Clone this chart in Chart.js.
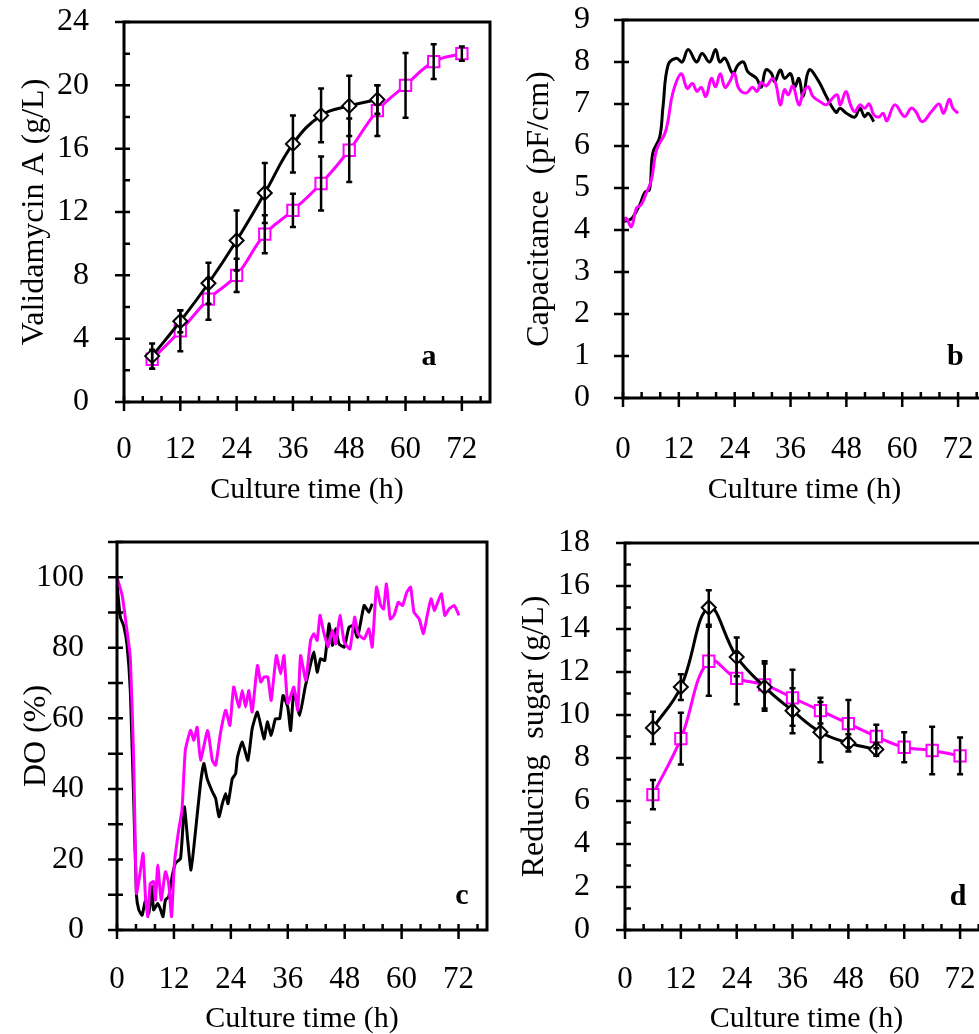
<!DOCTYPE html>
<html>
<head>
<meta charset="utf-8">
<script src="https://cdn.jsdelivr.net/npm/chart.js@4.4.1/dist/chart.umd.min.js"></script>
<style>
  body { margin: 0; background: #fff; overflow: hidden; width: 979px; height: 1034px; position: relative; }
  canvas { position: absolute; }
</style>
</head>
<body>
<canvas id="chartA" width="500" height="520" style="left:0;top:0"></canvas>
<canvas id="chartB" width="500" height="520" style="left:500px;top:0"></canvas>
<canvas id="chartC" width="500" height="514" style="left:0;top:520px"></canvas>
<canvas id="chartD" width="500" height="514" style="left:500px;top:520px"></canvas>
<script>
// sampling times (h)
const sampleTimes = [6, 12, 18, 24, 30, 36, 42, 48, 54, 60, 66, 72];

// a: validamycin A (g/L)
const valBlack = [2.9, 5.1, 7.5, 10.2, 13.2, 16.3, 18.1, 18.7, 19.1];
const valBlackErr = [0.8, 0.7, 1.3, 1.9, 1.9, 1.8, 1.7, 1.9, 0.9];
const valMagenta = [2.7, 4.5, 6.5, 8.0, 10.6, 12.1, 13.8, 15.9, 18.4, 20.0, 21.5, 22.0];
const valMagentaErr = [0.6, 1.3, 1.3, 1.05, 1.2, 1.05, 1.7, 2.0, 1.6, 2.05, 1.1, 0.45];

// b: capacitance (pF/cm), online
const capBlackT = [0, 1.4, 2.1, 3.6, 4.7, 5.7, 6.4, 7.9, 8.6, 9.7, 11.5, 12.7, 14, 15.8, 17, 18.6, 19.9, 20.8, 21.9, 23.6, 24.7, 25.9, 26.8, 28.7, 29.7, 30.7, 31.9, 32.6, 33.8, 34.7, 36, 36.9, 37.8, 38.7, 40, 41.9, 43.7, 45.8, 46.6, 48, 49.8, 50.9, 51.9, 52.7, 53.9];
const capBlack = [4.2, 4.24, 4.3, 4.6, 4.9, 4.96, 5.83, 6.22, 6.94, 7.93, 8.09, 8.0, 8.3, 8.0, 8.2, 8.0, 8.3, 8.0, 8.09, 7.73, 7.93, 8.0, 7.77, 7.61, 7.4, 7.81, 7.73, 7.53, 7.81, 7.61, 7.72, 7.41, 7.61, 7.18, 7.81, 7.57, 7.18, 6.8, 6.9, 6.78, 6.69, 6.9, 6.7, 6.78, 6.58];
const capMagentaT = [0.1, 0.7, 1.8, 2.9, 3.9, 5.0, 6.1, 7.2, 9.0, 9.7, 10.7, 12.5, 13.8, 14.9, 15.9, 16.8, 17.8, 19.0, 19.9, 20.9, 21.9, 22.9, 23.9, 24.9, 26.5, 27.8, 28.8, 29.7, 30.8, 32.1, 32.9, 33.8, 34.7, 35.5, 36.5, 37.8, 38.7, 39.8, 40.8, 42.3, 43.7, 44.8, 46.0, 46.7, 47.9, 48.9, 49.8, 50.9, 51.9, 52.9, 53.9, 55.0, 55.9, 56.7, 58.4, 60.5, 61.9, 62.9, 64.3, 66.3, 67.9, 68.9, 70.1, 70.9, 72.0];
const capMagenta = [4.2, 4.28, 4.08, 4.52, 4.6, 4.88, 5.19, 5.9, 6.3, 6.62, 7.26, 7.72, 7.37, 7.49, 7.3, 7.4, 7.18, 7.61, 7.41, 7.72, 7.4, 7.53, 7.73, 7.37, 7.26, 7.4, 7.3, 7.51, 7.43, 7.61, 7.45, 6.98, 7.34, 7.22, 7.43, 6.98, 7.26, 7.41, 7.18, 7.06, 6.98, 7.11, 7.22, 6.98, 7.3, 6.98, 6.82, 6.98, 6.9, 7.0, 6.74, 6.69, 6.78, 6.6, 6.98, 6.7, 6.9, 6.82, 6.58, 6.82, 7.0, 6.78, 7.11, 6.9, 6.78];

// c: dissolved oxygen (%), online
const doBlackT = [0, 0.7, 1.4, 2.1, 2.8, 3.5, 4.1, 4.6, 5.3, 6.0, 6.7, 7.4, 7.7, 8.6, 9.1, 9.7, 10.2, 10.9, 11.6, 12.3, 13.4, 14.2, 14.9, 15.6, 16.5, 17.6, 18.3, 19.0, 20.1, 20.8, 21.5, 22.2, 22.9, 23.4, 24.3, 25.0, 25.4, 26.4, 27.6, 28.5, 29.6, 31, 31.7, 32.5, 33.4, 34.3, 35.0, 36.0, 36.6, 37.3, 38.5, 39.6, 40.5, 41.5, 42.2, 42.9, 43.8, 44.7, 45.4, 46.1, 46.8, 47.9, 48.9, 49.8, 50.7, 52.1, 53.1, 53.8];
const doBlack = [98, 88.7, 86.3, 81, 68, 37.7, 9.9, 5.7, 4.2, 8.5, 4.7, 12.3, 5.7, 7.5, 6.1, 3.8, 8.5, 9.4, 15, 18.9, 20.3, 34.9, 25.5, 17, 27.4, 41.5, 47.2, 42.9, 39.2, 37.3, 32.1, 35.8, 38.7, 35.8, 42.9, 44.3, 49, 53.3, 48.1, 57.1, 61.8, 54.2, 59, 55.2, 59.9, 59.9, 66.5, 63.2, 56.6, 67.9, 60.8, 68.4, 73.6, 78.8, 73.1, 76.9, 76.4, 86.8, 80.7, 85.4, 81.1, 80.2, 85.8, 86.3, 83, 92, 90.1, 92.5];
const doMagentaT = [0, 1.1, 2.1, 2.8, 3.5, 4.1, 4.8, 5.5, 6.0, 6.5, 7.0, 7.7, 8.1, 8.6, 9.3, 10.2, 10.9, 11.5, 12.1, 13.0, 13.7, 14.4, 15.5, 16.2, 16.9, 17.6, 19.1, 20.1, 20.8, 21.8, 22.9, 23.8, 24.6, 25.7, 26.4, 27.1, 27.8, 28.5, 29.6, 30.3, 31, 31.8, 32.5, 33.6, 34.5, 35.2, 36.0, 37.3, 38.1, 38.7, 39.8, 40.8, 41.5, 42.2, 42.8, 43.5, 44.5, 45.4, 46.1, 47.0, 47.9, 49.1, 50.1, 50.8, 52.1, 53.1, 53.8, 54.7, 55.6, 56.2, 56.8, 57.6, 58.4, 59.3, 60.2, 61.1, 61.9, 62.6, 63.7, 64.6, 65.4, 66.2, 66.9, 67.6, 68.4, 69.1, 70.0, 71.1, 72.1];
const doMagenta = [100, 94.8, 84.9, 77.4, 49, 10.4, 15.6, 21.7, 9.4, 3.8, 13.2, 13.7, 8.5, 18.4, 8.5, 16.5, 13.2, 3.8, 18.9, 28.3, 34, 50.9, 56.6, 53.8, 57.5, 48.1, 56.6, 48.1, 46.7, 55.7, 62.3, 58, 68.9, 63.2, 67.9, 63.2, 67.9, 61.8, 75, 70.3, 71.7, 71.7, 65.1, 77.8, 72.6, 77.8, 64.2, 68.9, 62.3, 77.8, 70.8, 82.1, 84, 82.1, 89.2, 84.9, 80.2, 84.9, 81.1, 89.2, 81.6, 79.7, 88.7, 84, 82.5, 85.4, 80.2, 97.2, 92, 91, 98.1, 88.2, 89.2, 92.9, 92, 95.8, 97.2, 90.1, 88.2, 84, 89.2, 93.9, 90.6, 92.9, 95.3, 89.2, 91, 92, 89.2];

// d: reducing sugar (g/L)
const sugarBlack = [9.4, 11.3, 15.0, 12.7, 11.3, 10.2, 9.2, 8.7, 8.4];
const sugarBlackErr = [0.75, 0.6, 0.8, 0.9, 1.1, 1.05, 1.4, 0.4, 0.3];
const sugarMagenta = [6.3, 8.9, 12.5, 11.7, 11.4, 10.8, 10.2, 9.6, 9.0, 8.5, 8.35, 8.1];
const sugarMagentaErr = [0.68, 1.2, 1.6, 1.2, 1.1, 1.3, 0.6, 1.1, 0.55, 0.7, 1.1, 0.85];

const xTickLabels = [0, 12, 24, 36, 48, 60, 72];

const FONT = "'Liberation Serif', 'Times New Roman', serif";
Chart.defaults.font.family = FONT;
Chart.defaults.color = '#000';

function pts(xs, ys) {
  return ys.map((y, i) => ({ x: xs[i], y: y }));
}

// error bars, frame, tick marks and panel letter
const panelPlugin = {
  id: 'panel',
  afterDatasetsDraw(chart) {
    const ctx = chart.ctx, xs = chart.scales.x, ys = chart.scales.y;
    ctx.save();
    ctx.strokeStyle = '#000';
    ctx.lineWidth = 2.5;
    chart.data.datasets.forEach(ds => {
      if (!ds.errors) return;
      ds.data.forEach((p, j) => {
        const e = ds.errors[j];
        const x = xs.getPixelForValue(p.x);
        const y1 = ys.getPixelForValue(p.y - e);
        const y2 = ys.getPixelForValue(p.y + e);
        ctx.beginPath();
        ctx.moveTo(x, y1); ctx.lineTo(x, y2);
        ctx.moveTo(x - 3, y1); ctx.lineTo(x + 3, y1);
        ctx.moveTo(x - 3, y2); ctx.lineTo(x + 3, y2);
        ctx.stroke();
      });
    });
    ctx.restore();
  },
  afterDraw(chart, args, opts) {
    const ctx = chart.ctx, xs = chart.scales.x, ys = chart.scales.y;
    const a = chart.chartArea;
    ctx.save();
    ctx.strokeStyle = '#000';
    ctx.lineWidth = 3;
    ctx.strokeRect(a.left, a.top, a.right - a.left, a.bottom - a.top);
    ctx.lineWidth = 2.5;
    ctx.beginPath();
    for (let v = xs.min; v <= xs.max + 1e-6; v += opts.xMinor) {
      const px = xs.getPixelForValue(v);
      const major = Math.abs(v % opts.xMajor) < 1e-6;
      ctx.moveTo(px, major ? a.bottom + 9 : a.bottom);
      ctx.lineTo(px, a.bottom - 6);
    }
    for (let v = ys.min; v <= ys.max + 1e-6; v += opts.yMinor) {
      const py = ys.getPixelForValue(v);
      const major = Math.abs(v % opts.yMajor) < 1e-6;
      ctx.moveTo(major ? a.left - 9 : a.left, py);
      ctx.lineTo(a.left + 6, py);
    }
    ctx.stroke();
    ctx.fillStyle = '#000';
    ctx.font = 'bold 30px ' + FONT;
    ctx.textAlign = 'center';
    ctx.textBaseline = 'middle';
    ctx.fillText(opts.letter, xs.getPixelForValue(opts.letterX), ys.getPixelForValue(opts.letterY));
    ctx.restore();
  }
};

function makePanel(id, p) {
  new Chart(document.getElementById(id), {
    type: 'line',
    data: { datasets: p.datasets },
    options: {
      responsive: false,
      animation: false,
      layout: { padding: { top: p.padTop, right: p.padRight, left: 0, bottom: 0 } },
      plugins: {
        legend: { display: false },
        tooltip: { enabled: false },
        panel: p.marks
      },
      scales: {
        x: {
          type: 'linear', min: 0, max: 78,
          grid: { display: false }, border: { display: false },
          afterFit: s => { s.height = p.xHeight; s.paddingLeft = 0; s.paddingRight = 0; },
          ticks: {
            stepSize: 12, autoSkip: false, maxRotation: 0, includeBounds: false, padding: p.xTickPad,
            font: { size: 31 },
            callback: v => xTickLabels.includes(v) ? String(v) : ''
          },
          title: { display: true, text: 'Culture time (h)', font: { size: 30, lineHeight: 1 }, padding: { top: 0, bottom: p.xTitlePad } }
        },
        y: {
          min: 0, max: p.yMax,
          grid: { display: false }, border: { display: false },
          afterFit: s => { s.width = p.yWidth; s.paddingTop = 0; s.paddingBottom = 0; },
          ticks: {
            stepSize: p.yStep, autoSkip: false, includeBounds: false, padding: p.yTickPad,
            font: { size: 32 },
            callback: v => (v % p.yStep === 0 ? String(v) : '')
          },
          title: { display: true, text: p.yTitle, font: { size: 32, lineHeight: 1 }, padding: { top: p.yTitlePad, bottom: 0 } }
        }
      }
    },
    plugins: [panelPlugin]
  });
}

function markerSet(label, color, xs, ys, errs, style, radius) {
  return {
    label: label, data: pts(xs, ys), errors: errs,
    borderColor: color, borderWidth: 3, tension: 0.4,
    pointStyle: style, pointRadius: radius, pointBorderWidth: 2,
    pointBorderColor: color, pointBackgroundColor: '#fff'
  };
}

function traceSet(label, color, xs, ys, tension) {
  return {
    label: label, data: pts(xs, ys),
    borderColor: color, borderWidth: 3, tension: tension, pointRadius: 0
  };
}

makePanel('chartA', {
  padTop: 22, padRight: 8, xHeight: 118, yWidth: 124,
  xTickPad: 21, xTitlePad: 15, yTickPad: 27, yTitlePad: 19,
  yMax: 24, yStep: 4, yTitle: 'Validamycin A (g/L)',
  marks: { xMajor: 12, xMinor: 4, yMajor: 4, yMinor: 2, letter: 'a', letterX: 65, letterY: 2.8 },
  datasets: [
    markerSet('Black', '#000', sampleTimes, valBlack, valBlackErr, 'rectRot', 7),
    markerSet('Magenta', '#ff00ff', sampleTimes, valMagenta, valMagentaErr, 'rect', 8)
  ]
});

makePanel('chartB', {
  padTop: 20, padRight: 14, xHeight: 122, yWidth: 123,
  xTickPad: 25, xTitlePad: 15, yTickPad: 25, yTitlePad: 24,
  yMax: 9, yStep: 1, yTitle: 'Capacitance  (pF/cm)',
  marks: { xMajor: 12, xMinor: 4, yMajor: 1, yMinor: 1, letter: 'b', letterX: 71.4, letterY: 0.98 },
  datasets: [
    traceSet('Magenta', '#ff00ff', capMagentaT, capMagenta, 0.4),
    traceSet('Black', '#000', capBlackT, capBlack, 0.4)
  ]
});

makePanel('chartC', {
  padTop: 22, padRight: 13, xHeight: 104, yWidth: 117,
  xTickPad: 23, xTitlePad: 0, yTickPad: 25, yTitlePad: 21,
  yMax: 110, yStep: 20, yTitle: 'DO (%)',
  marks: { xMajor: 12, xMinor: 4, yMajor: 10, yMinor: 10, letter: 'c', letterX: 72.7, letterY: 9.6 },
  datasets: [
    traceSet('Magenta', '#ff00ff', doMagentaT, doMagenta, 0.15),
    traceSet('Black', '#000', doBlackT, doBlack, 0.15)
  ]
});

makePanel('chartD', {
  padTop: 23, padRight: 12, xHeight: 104, yWidth: 125,
  xTickPad: 23, xTitlePad: 0, yTickPad: 27, yTitlePad: 19,
  yMax: 18, yStep: 2, yTitle: 'Reducing  sugar (g/L)',
  marks: { xMajor: 12, xMinor: 4, yMajor: 2, yMinor: 1, letter: 'd', letterX: 71.6, letterY: 1.53 },
  datasets: [
    markerSet('Black', '#000', sampleTimes, sugarBlack, sugarBlackErr, 'rectRot', 7),
    markerSet('Magenta', '#ff00ff', sampleTimes, sugarMagenta, sugarMagentaErr, 'rect', 8)
  ]
});
</script>
</body>
</html>
